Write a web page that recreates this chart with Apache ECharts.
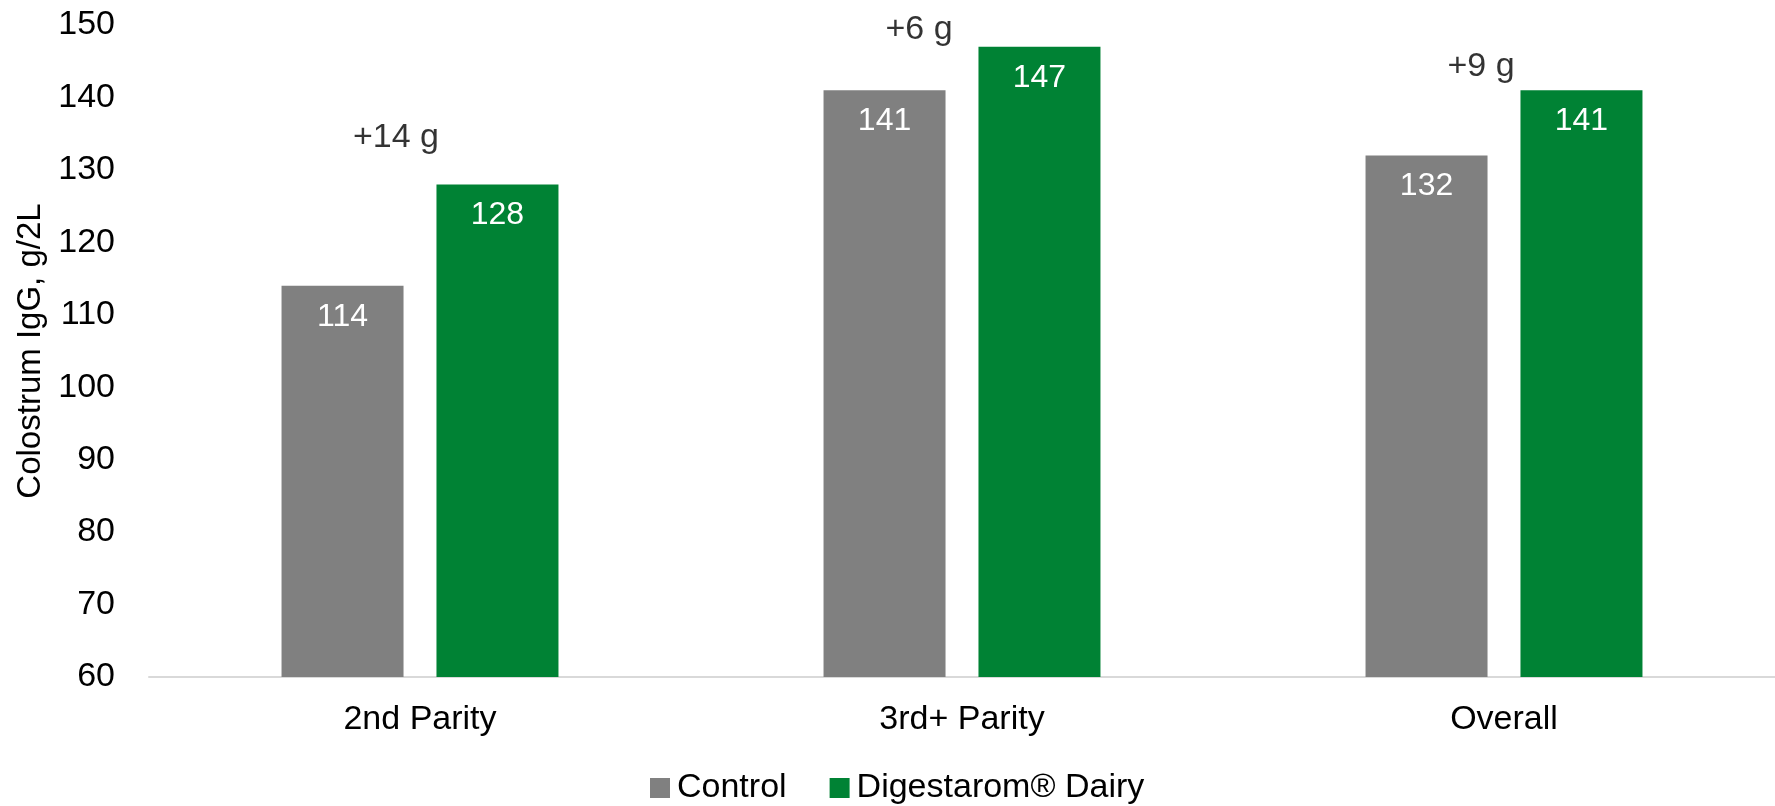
<!DOCTYPE html>
<html>
<head>
<meta charset="utf-8">
<script src="https://cdn.jsdelivr.net/npm/echarts@6/dist/echarts.min.js"></script>
<style>
  html, body { margin: 0; padding: 0; background: #fff; }
  #chart { width: 1775px; height: 806px; }
</style>
</head>
<body>
<div id="chart"></div>
<script>
// Colostrum IgG by parity group
const categories = ['2nd Parity', '3rd+ Parity', 'Overall'];
const controlValues = [114, 141, 132];
const digestaromValues = [128, 147, 141];
const seriesNames = ['Control', 'Digestarom® Dairy'];
const yTicks = { min: 60, max: 150, interval: 10 };
// Height (in g/2L) at which each difference note is written
const noteLevels = [134.5, 149.3, 144.3];
// Horizontal nudge of each note, px
const noteShift = [-24, -43, -23];

const FONT = "'Liberation Sans', Arial, sans-serif";
const GREY = '#808080';
const GREEN = '#008234';

const notes = categories.map((c, i) => ({
  value: [c, noteLevels[i]],
  label: {
    offset: [noteShift[i], 0],
    formatter: '+' + (digestaromValues[i] - controlValues[i]) + ' g'
  }
}));

const chart = echarts.init(document.getElementById('chart'), null, { renderer: 'canvas' });

const barLabel = {
  show: true,
  position: 'insideTop',
  distance: 15,
  color: '#ffffff',
  fontFamily: FONT,
  fontSize: 32
};

chart.setOption({
  backgroundColor: '#ffffff',
  animation: false,
  grid: { left: 149, right: 0, top: 25, bottom: 129 },
  legend: {
    data: seriesNames,
    left: 645,
    top: 766,
    icon: 'rect',
    itemWidth: 20,
    itemHeight: 20,
    itemGap: 43,
    textStyle: { fontFamily: FONT, fontSize: 34, color: '#000', padding: [0, 0, 0, 2] }
  },
  xAxis: {
    type: 'category',
    data: categories,
    axisLine: { lineStyle: { color: '#d9d9d9', width: 2 } },
    axisTick: { show: false },
    axisLabel: { fontFamily: FONT, fontSize: 34, color: '#000', margin: 26 }
  },
  yAxis: {
    type: 'value',
    min: yTicks.min,
    max: yTicks.max,
    interval: yTicks.interval,
    name: 'Colostrum IgG, g/2L',
    nameLocation: 'middle',
    nameGap: 100,
    nameTextStyle: { fontFamily: FONT, fontSize: 33, color: '#000' },
    axisLine: { show: false },
    axisTick: { show: false },
    splitLine: { show: false },
    axisLabel: { fontFamily: FONT, fontSize: 34, color: '#000', margin: 34 }
  },
  series: [
    {
      name: seriesNames[0],
      type: 'bar',
      data: controlValues,
      barWidth: 122,
      barGap: '27%',
      itemStyle: { color: GREY },
      label: barLabel
    },
    {
      name: seriesNames[1],
      type: 'bar',
      data: digestaromValues,
      barWidth: 122,
      barGap: '27%',
      itemStyle: { color: GREEN },
      label: barLabel
    },
    {
      name: 'difference',
      type: 'scatter',
      symbolSize: 0,
      silent: true,
      data: notes,
      label: {
        show: true,
        position: 'inside',
        color: '#000',
        fontFamily: FONT,
        fontSize: 34
      }
    }
  ]
});
</script>
</body>
</html>
